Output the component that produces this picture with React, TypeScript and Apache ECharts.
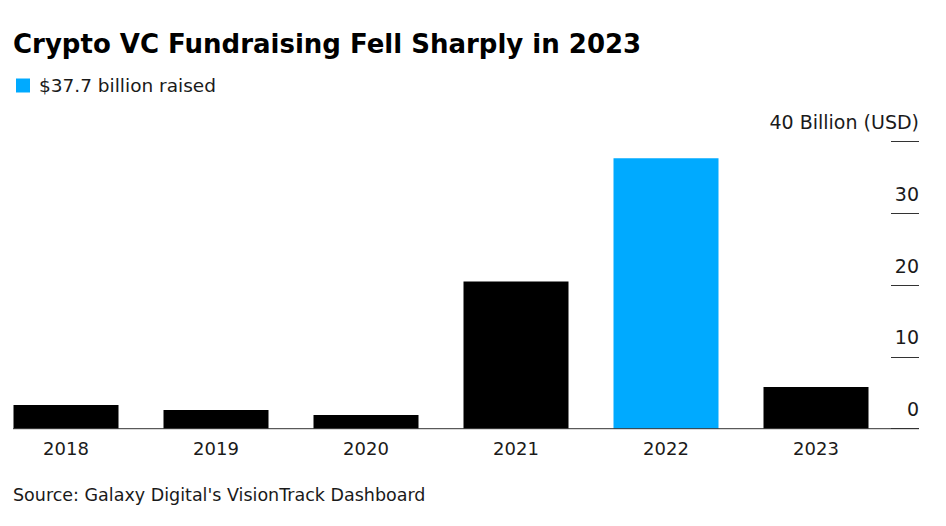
import React, { useEffect, useRef } from "react";
import * as echarts from "echarts";

const categories = ["2018", "2019", "2020", "2021", "2022", "2023"];
const values = [3.3, 2.6, 1.9, 20.5, 37.7, 5.8];
const highlightYear = "2022";
const titleText = "Crypto VC Fundraising Fell Sharply in 2023";
const legendText = "$37.7 billion raised";
const sourceText = "Source: Galaxy Digital's VisionTrack Dashboard";
const yUnit = "Billion (USD)";

const BLUE = "#00AAFF";
const FONT = "'DejaVu Sans', sans-serif";
const OFFSET = 9; // chart div shifted left so the grid can start left of the page edge

export default function App() {
  const ref = useRef<HTMLDivElement>(null);
  useEffect(() => {
    if (!ref.current) return;
    const chart = echarts.init(ref.current, null, { renderer: "svg" });
    const gridTop = 141.7;
    const gridBottomY = 428.7;
    const X = (x: number) => x + OFFSET;
    chart.setOption({
      animation: false,
      backgroundColor: "#fff",
      textStyle: { fontFamily: FONT },
      grid: { left: 0, width: 900, top: gridTop, height: gridBottomY - gridTop, containLabel: false },
      xAxis: {
        type: "category",
        data: categories,
        axisLine: { show: false },
        axisTick: { show: false },
        axisLabel: { color: "#1a1a1a", fontSize: 18, margin: 11, fontFamily: FONT },
      },
      yAxis: {
        type: "value",
        position: "right",
        min: 0,
        max: 40,
        interval: 10,
        splitLine: { show: false },
        axisLine: { show: false },
        axisTick: { show: true, inside: false, length: 28, lineStyle: { color: "#333", width: 1 } },
        axisLabel: {
          color: "#1a1a1a",
          fontSize: 19,
          fontFamily: FONT,
          align: "right",
          verticalAlign: "bottom",
          margin: 28,
          padding: [0, 0, 10, 0],
          formatter: (v: number) => (v === 40 ? `40 ${yUnit}` : String(v)),
        },
      },
      series: [
        {
          type: "bar",
          data: categories.map((c, i) => ({
            value: values[i],
            itemStyle: { color: c === highlightYear ? BLUE : "#000" },
          })),
          barCategoryGap: "30%",
        },
      ],
      graphic: [
        {
          type: "line",
          shape: { x1: X(13), y1: gridBottomY, x2: X(919), y2: gridBottomY },
          style: { stroke: "#333", lineWidth: 1 },
          z: 10,
        },
        {
          type: "text",
          left: X(13),
          top: 31,
          style: { text: titleText, font: `bold 26px ${FONT}`, fill: "#000" },
        },
        {
          type: "rect",
          shape: { x: X(16), y: 78.5, width: 14, height: 14 },
          style: { fill: BLUE },
        },
        {
          type: "text",
          left: X(39),
          top: 75.5,
          style: { text: legendText, font: `18.5px ${FONT}`, fill: "#1a1a1a" },
        },
        {
          type: "text",
          left: X(13),
          top: 486,
          style: { text: sourceText, font: `17.5px ${FONT}`, fill: "#1a1a1a" },
        },
      ],
    });
    return () => chart.dispose();
  }, []);
  return (
    <div
      ref={ref}
      style={{ position: "absolute", left: -OFFSET, top: 0, width: 946 + OFFSET, height: 526 }}
    />
  );
}
